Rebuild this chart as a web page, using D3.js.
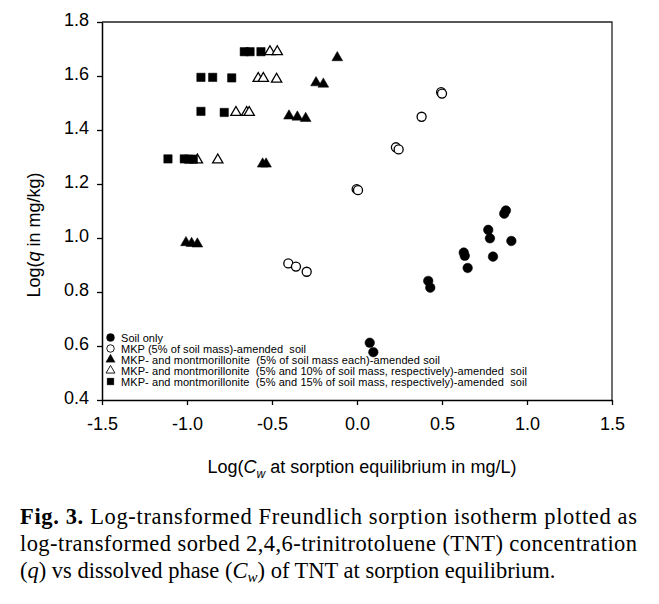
<!DOCTYPE html>
<html><head><meta charset="utf-8">
<script src="https://cdn.jsdelivr.net/npm/d3@7"></script>
<style>body{margin:0;background:#fff}svg{display:block}</style>
</head><body>
<svg id="c" width="659" height="604"></svg>
<script>
// Data (log Cw, log q)
const soilOnlyX = [0.876, 0.866, 0.772, 0.782, 0.908, 0.628, 0.634, 0.800, 0.651, 0.419, 0.431, 0.075, 0.096];
const soilOnlyY = [1.102, 1.090, 1.030, 0.999, 0.989, 0.946, 0.934, 0.931, 0.889, 0.841, 0.816, 0.612, 0.577];
const mkpX = [0.495, 0.500, 0.380, 0.229, 0.245, -0.002, 0.006, -0.404, -0.359, -0.296];
const mkpY = [1.540, 1.535, 1.449, 1.336, 1.328, 1.181, 1.177, 0.906, 0.894, 0.875];
const mm5X = [-0.116, -0.241, -0.198, -0.400, -0.351, -0.302, -0.555, -0.535, -1.006, -0.973, -0.939];
const mm5Y = [1.668, 1.575, 1.570, 1.452, 1.448, 1.443, 1.274, 1.274, 0.983, 0.980, 0.978];
const mm10X = [-0.512, -0.469, -0.581, -0.551, -0.473, -0.712, -0.649, -0.634, -0.939, -0.819];
const mm10Y = [1.690, 1.690, 1.591, 1.591, 1.588, 1.465, 1.465, 1.465, 1.289, 1.289];
const mm15X = [-0.663, -0.629, -0.565, -0.918, -0.849, -0.737, -0.918, -0.781, -1.112, -1.016, -0.990, -0.963];
const mm15Y = [1.690, 1.690, 1.690, 1.595, 1.595, 1.593, 1.469, 1.465, 1.293, 1.293, 1.292, 1.292];

const seriesNames = [
  "Soil only",
  "MKP (5% of soil mass)-amended  soil",
  "MKP- and montmorillonite  (5% of soil mass each)-amended soil",
  "MKP- and montmorillonite  (5% and 10% of soil mass, respectively)-amended  soil",
  "MKP- and montmorillonite  (5% and 15% of soil mass, respectively)-amended  soil"
];
const xTicks = [-1.5, -1.0, -0.5, 0.0, 0.5, 1.0, 1.5];
const yTicks = [0.4, 0.6, 0.8, 1.0, 1.2, 1.4, 1.6, 1.8];

const series = [
  {x: soilOnlyX, y: soilOnlyY, sym: d3.symbolCircle, fill: "#000", size: 72},
  {x: mkpX, y: mkpY, sym: d3.symbolCircle, fill: "#fff", size: 64},
  {x: mm5X, y: mm5Y, sym: d3.symbolTriangle, fill: "#000", size: 50},
  {x: mm10X, y: mm10Y, sym: d3.symbolTriangle, fill: "#fff", size: 46},
  {x: mm15X, y: mm15Y, sym: d3.symbolSquare, fill: "#000", size: 70}
];

const svg = d3.select("#c");
svg.append("rect").attr("width", 659).attr("height", 604).attr("fill", "#fff");

const L = 102, R = 612, T = 22, B = 400;
const x = d3.scaleLinear().domain([-1.5, 1.5]).range([L, R]);
const y = d3.scaleLinear().domain([0.4, 1.8]).range([B, T]);
const font = "'Liberation Sans', Arial, sans-serif";
const fmt = v => d3.format(".1f")(v).replace("\u2212", "-");

// frame
svg.append("path").attr("d", `M${L},${T}H${R}V${B}`).attr("fill", "none").attr("stroke", "#222").attr("stroke-width", 1.3);

const xAxis = svg.append("g").attr("transform", `translate(0,${B})`)
  .call(d3.axisBottom(x).tickValues(xTicks).tickFormat(fmt).tickSizeOuter(0).tickSizeInner(5).tickPadding(12));
const yAxis = svg.append("g").attr("transform", `translate(${L},0)`)
  .call(d3.axisLeft(y).tickValues(yTicks).tickFormat(fmt).tickSizeOuter(0).tickSizeInner(5).tickPadding(8));
[xAxis, yAxis].forEach(g => {
  g.select(".domain").attr("stroke", "#000").attr("stroke-width", 1.5);
  g.selectAll(".tick line").attr("stroke", "#000").attr("stroke-width", 1.3);
  g.selectAll(".tick text").attr("font-family", font).attr("font-size", 18).attr("fill", "#000");
});
yAxis.selectAll(".tick text").attr("dy", "0.2em");

// points
series.forEach(s => {
  const g = svg.append("g");
  g.selectAll("path").data(s.x.map((v, i) => [v, s.y[i]])).join("path")
    .attr("d", d3.symbol().type(s.sym).size(s.size))
    .attr("transform", d => `translate(${x(d[0])},${y(d[1])})`)
    .attr("fill", s.fill).attr("stroke", "#000").attr("stroke-width", s.fill === "#fff" ? 1.3 : 0.5);
});

// legend
const legY0 = 337.5, legDy = 11;
const legWidths = [42, 185, 319, 406, 406];
const legSizes = [50, 44, 38, 34, 46];
series.forEach((s, i) => {
  const yy = legY0 + i * legDy;
  svg.append("path").attr("d", d3.symbol().type(s.sym).size(legSizes[i]))
    .attr("transform", `translate(110.5,${yy})`)
    .attr("fill", s.fill).attr("stroke", "#000").attr("stroke-width", s.fill === "#fff" ? 0.9 : 0.3);
  svg.append("text").attr("x", 121).attr("y", yy + 4)
    .attr("font-family", font).attr("font-size", 11).attr("fill", "#000")
    .attr("xml:space", "preserve").style("white-space", "pre")
    .attr("textLength", legWidths[i]).attr("lengthAdjust", "spacing")
    .text(seriesNames[i]);
});

// axis titles
const yl = svg.append("text").attr("transform", "translate(40,235) rotate(-90)")
  .attr("text-anchor", "middle").attr("font-family", font).attr("font-size", 18).attr("fill", "#000");
yl.append("tspan").text("Log(");
yl.append("tspan").attr("font-style", "italic").text("q");
yl.append("tspan").text(" in mg/kg)");

const xl = svg.append("text").attr("x", 362).attr("y", 473)
  .attr("text-anchor", "middle").attr("font-family", font).attr("font-size", 18).attr("fill", "#000");
xl.append("tspan").text("Log(");
xl.append("tspan").attr("font-style", "italic").text("C");
xl.append("tspan").attr("font-style", "italic").attr("font-size", 12).attr("dy", 5).text("w");
xl.append("tspan").attr("dy", -5).text(" at sorption equilibrium in mg/L)");

// caption
const serif = "'Liberation Serif', 'Times New Roman', serif";
const cap1 = svg.append("text").attr("x", 20).attr("y", 524).attr("font-family", serif).attr("font-size", 22.5)
  .attr("textLength", 617).attr("lengthAdjust", "spacing").attr("fill", "#000");
cap1.append("tspan").attr("font-weight", "bold").text("Fig. 3.");
cap1.append("tspan").text(" Log-transformed Freundlich sorption isotherm plotted as");

svg.append("text").attr("x", 20).attr("y", 551).attr("font-family", serif).attr("font-size", 22.5)
  .attr("textLength", 617).attr("lengthAdjust", "spacing").attr("fill", "#000")
  .text("log-transformed sorbed 2,4,6-trinitrotoluene (TNT) concentration");

const cap3 = svg.append("text").attr("x", 20).attr("y", 578).attr("font-family", serif).attr("font-size", 22.5).attr("fill", "#000");
cap3.append("tspan").text("(");
cap3.append("tspan").attr("font-style", "italic").text("q");
cap3.append("tspan").text(") vs dissolved phase (");
cap3.append("tspan").attr("font-style", "italic").text("C");
cap3.append("tspan").attr("font-style", "italic").attr("font-size", 15).attr("dy", 4).text("w");
cap3.append("tspan").attr("dy", -4).text(") of TNT at sorption equilibrium.");
</script>
</body></html>
